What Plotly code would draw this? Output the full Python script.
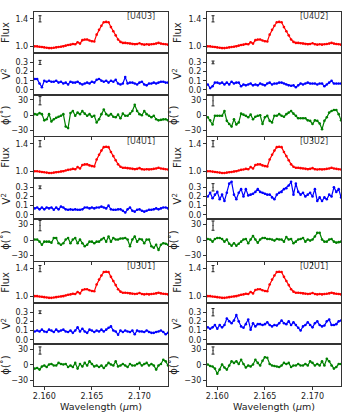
import plotly.graph_objects as go

# ---------------- data ----------------
wavelength = [round(2.1590 + 0.00025 * i, 5) for i in range(57)]

flux = [1.00, 1.00, 0.995, 0.99, 0.985, 0.98, 0.975, 0.975, 0.98, 0.985,
        0.99, 0.995, 1.00, 1.01, 1.02, 1.025, 1.035, 1.03, 1.06, 1.04,
        1.09, 1.10, 1.10, 1.085, 1.075, 1.07, 1.17, 1.24, 1.30, 1.35,
        1.355, 1.35, 1.28, 1.22, 1.16, 1.10, 1.065, 1.05, 1.05, 1.045,
        1.04, 1.035, 1.03, 1.035, 1.045, 1.03, 1.025, 1.03, 1.025, 1.03,
        1.035, 1.04, 1.05, 1.04, 1.035, 1.03, 1.025]

v2_U4U3 = [0.12, 0.12, 0.07, 0.03, 0.10, 0.09, 0.10, 0.09, 0.09, 0.10,
           0.08, 0.09, 0.07, 0.08, 0.06, 0.09, 0.08, 0.08, 0.09, 0.07,
           0.06, 0.07, 0.08, 0.07, 0.09, 0.08, 0.11, 0.12, 0.10, 0.09,
           0.10, 0.08, 0.10, 0.09, 0.11, 0.07, 0.06, 0.07, 0.14, 0.07,
           0.08, 0.08, 0.07, 0.06, 0.08, 0.09, 0.06, 0.05, 0.07, 0.07,
           0.08, 0.07, 0.08, 0.09, 0.09, 0.08, 0.08]
phi_U4U3 = [2, 1, 4, 2, -10, -8, 2, -12, -8, -5,
            -3, -1, 2, -22, -25, 4, 8, -1, 5, 2,
            8, 3, -1, 2, -3, -1, -14, -8, 2, 11,
            2, -1, 2, -3, -4, 1, -6, 3, -1, -1,
            3, 8, 20, 8, 2, 0, 8, 2, -1, -4,
            -1, -8, -10, -9, -8, -8, -10]

v2_U4U2 = [0.06, 0.02, 0.04, 0.08, 0.08, 0.07, 0.08, 0.06, 0.08, 0.06,
           0.09, 0.07, 0.08, 0.08, 0.04, 0.06, 0.05, 0.06, 0.07, 0.05,
           0.06, 0.05, 0.07, 0.06, 0.05, 0.07, 0.08, 0.06, 0.07, 0.07,
           0.08, 0.08, 0.07, 0.06, 0.05, 0.045, 0.05, 0.03, 0.05, 0.07,
           0.06, 0.07, 0.08, 0.07, 0.07, 0.07, 0.06, 0.07, 0.07, 0.04,
           0.06, 0.08, 0.10, 0.07, 0.07, 0.07, 0.07]
phi_U4U2 = [-4, -10, -18, -1, -1, -1, -1, 8, -11, -17,
            -22, -8, -18, -14, 3, 1, -1, -4, 1, -8,
            -3, -1, 0, -17, -4, -1, -11, -14, -1, -1,
            2, -1, -3, 2, 5, 8, 3, -1, -6, -6,
            -6, -6, -10, -11, -17, -10, -11, -16, -27, -11,
            -4, 5, 8, 10, 10, 2, -10]

v2_U4U1 = [0.07, 0.08, 0.06, 0.08, 0.06, 0.08, 0.07, 0.08, 0.055, 0.08,
           0.06, 0.09, 0.08, 0.06, 0.055, 0.06, 0.055, 0.06, 0.055, 0.055,
           0.06, 0.08, 0.08, 0.07, 0.08, 0.07, 0.08, 0.08, 0.09, 0.08,
           0.07, 0.10, 0.06, 0.055, 0.055, 0.06, 0.06, 0.045, 0.025, 0.06,
           0.08, 0.045, 0.035, 0.055, 0.06, 0.045, 0.035, 0.045, 0.055, 0.055,
           0.06, 0.07, 0.06, 0.07, 0.08, 0.08, 0.07]
phi_U4U1 = [1, 1, -3, -9, -3, -3, -3, -5, 4, 4,
            -6, -9, -6, 1, 4, -6, 1, 4, -6, 1,
            -6, -12, -9, -3, -3, -6, -3, -3, 1, 4,
            -3, 7, -3, 4, 1, 1, 3, 3, 4, 1,
            -12, 1, 7, -3, 2, 1, -6, 1, 1, -12,
            -15, -9, -19, -9, -6, -7, -9]

v2_U3U2 = [0.20, 0.24, 0.18, 0.22, 0.25, 0.17, 0.22, 0.15, 0.24, 0.34,
           0.36, 0.22, 0.17, 0.24, 0.28, 0.20, 0.28, 0.21, 0.22, 0.23,
           0.25, 0.28, 0.25, 0.24, 0.23, 0.22, 0.22, 0.19, 0.17, 0.22,
           0.24, 0.25, 0.28, 0.29, 0.32, 0.36, 0.22, 0.34, 0.25, 0.22,
           0.24, 0.20, 0.22, 0.24, 0.20, 0.28, 0.15, 0.19, 0.15, 0.19,
           0.17, 0.22, 0.20, 0.30, 0.25, 0.28, 0.19]
phi_U3U2 = [2, 1, -3, 2, 4, 4, 2, -3, 1, -7,
            -11, -6, -11, -7, -3, 1, 2, -6, 1, 8,
            1, -5, 1, 4, 4, 2, 2, 1, -1, 2,
            1, 1, -3, 6, 1, 2, -6, -3, 1, 2,
            4, -3, 1, -1, 1, 7, 14, 14, 1, -3,
            -3, 1, 2, -3, -5, -4, -3]

v2_U3U1 = [0.09, 0.10, 0.09, 0.11, 0.09, 0.085, 0.11, 0.10, 0.085, 0.11,
           0.09, 0.10, 0.11, 0.09, 0.085, 0.10, 0.075, 0.10, 0.135, 0.09,
           0.12, 0.09, 0.075, 0.11, 0.10, 0.085, 0.10, 0.09, 0.11, 0.09,
           0.11, 0.13, 0.145, 0.10, 0.09, 0.055, 0.10, 0.085, 0.10, 0.09,
           0.085, 0.10, 0.06, 0.10, 0.09, 0.09, 0.085, 0.10, 0.085, 0.075,
           0.075, 0.085, 0.09, 0.10, 0.085, 0.06, 0.075]
phi_U3U1 = [-7, -6, -9, -3, -1, -4, 1, 2, -1, -1,
            4, 2, 1, 2, -4, -1, -4, 4, -7, 2,
            -3, 4, -1, 7, 2, -3, -1, -4, -1, -6,
            -1, 4, 1, -1, 7, -3, -1, 2, -1, -4,
            2, -1, -1, 2, 4, -1, 2, 4, -1, 2,
            -1, -9, -1, 2, 10, 7, -1]

v2_U2U1 = [0.135, 0.12, 0.135, 0.16, 0.12, 0.16, 0.135, 0.16, 0.23, 0.20,
           0.18, 0.21, 0.27, 0.20, 0.145, 0.13, 0.17, 0.22, 0.11, 0.18,
           0.145, 0.17, 0.17, 0.16, 0.17, 0.19, 0.16, 0.145, 0.16, 0.155,
           0.18, 0.21, 0.18, 0.17, 0.20, 0.16, 0.19, 0.16, 0.13, 0.10,
           0.145, 0.16, 0.19, 0.16, 0.135, 0.18, 0.20, 0.16, 0.145, 0.155,
           0.20, 0.22, 0.16, 0.16, 0.17, 0.20, 0.21]
phi_U2U1 = [1, -2, -3, -7, -17, -9, 1, -5, -9, -1,
            7, 4, 7, 2, 10, 2, -5, -1, -3, 1,
            10, 4, -1, 8, 15, 14, 2, -1, -2, -3,
            -4, -1, 4, 2, 4, -4, -1, -1, 2, -1,
            -1, 2, -1, 7, 4, -1, 2, -1, 7, -1,
            12, 7, -1, -7, -4, 2, 2]

# representative error bars (flux, V2, phase) drawn at top-left of each panel
err_x = 2.15955
err_center = [1.40, 0.30, 28]
errs = {
    "U4U3": [0.045, 0.022, 8],
    "U4U1": [0.045, 0.015, 10],
    "U3U1": [0.045, 0.015, 7],
    "U4U2": [0.045, 0.015, 10],
    "U3U2": [0.045, 0.040, 9],
    "U2U1": [0.045, 0.040, 7],
}

columns = [["U4U3", "U4U1", "U3U1"], ["U4U2", "U3U2", "U2U1"]]
series = {
    "U4U3": (v2_U4U3, phi_U4U3),
    "U4U2": (v2_U4U2, phi_U4U2),
    "U4U1": (v2_U4U1, phi_U4U1),
    "U3U2": (v2_U3U2, phi_U3U2),
    "U3U1": (v2_U3U1, phi_U3U1),
    "U2U1": (v2_U2U1, phi_U2U1),
}

colors = ["#ff0000", "#0000ff", "#008000"]
titles = ["Flux", "V<sup>2</sup>", "\u03d5(\u02da)"]
yranges = [[0.9, 1.5], [-0.05, 0.4], [-40, 40]]
ytickvals = [[1.0, 1.4], [0.0, 0.1, 0.2, 0.3], [-30, 0, 30]]
yticktext = [["1.0", "1.4"], ["0.0", "0.1", "0.2", "0.3"], ["\u221230", "0", "30"]]
xtickvals = [2.160, 2.165, 2.170]
xticktext = ["2.160", "2.165", "2.170"]

# ---------------- layout geometry ----------------
W, H = 354, 412
x_domains = [[32 / W, 167 / W], [206 / W, 341 / W]]
group_tops = [12, 137.5, 263]
ph = 41.5
AX = "#333333"

fig = go.Figure()
layout = dict(width=W, height=H, margin=dict(l=0, r=0, t=0, b=0),
              paper_bgcolor="white", plot_bgcolor="white", showlegend=False,
              font=dict(family="DejaVu Sans", size=8, color="#222222"))
annotations = []

k = 0
for c in range(2):
    for g in range(3):
        bl = columns[c][g]
        v2, phi = series[bl]
        panel_data = [flux, v2, phi]
        for p in range(3):
            k += 1
            xa = "x" if k == 1 else f"x{k}"
            ya = "y" if k == 1 else f"y{k}"
            top = group_tops[g] + p * ph
            bot = top + ph
            fig.add_trace(go.Scatter(
                x=wavelength, y=panel_data[p], xaxis=xa, yaxis=ya,
                mode="lines+markers",
                line=dict(color=colors[p], width=1.2),
                marker=dict(color=colors[p], size=2.6)))
            fig.add_trace(go.Scatter(
                x=[err_x], y=[err_center[p]], xaxis=xa, yaxis=ya,
                mode="markers", marker=dict(size=1, color="#222222"),
                error_y=dict(type="data", array=[errs[bl][p]],
                             color="#222222", thickness=1, width=1.5)))
            bottom = (p == 2)
            last = (g == 2 and p == 2)
            xkey = "xaxis" if k == 1 else f"xaxis{k}"
            ykey = "yaxis" if k == 1 else f"yaxis{k}"
            xax = dict(
                domain=x_domains[c], anchor=ya, range=[2.1589, 2.1730],
                showline=True, mirror=True, linecolor=AX, linewidth=1,
                showgrid=False, zeroline=False,
                ticks="outside" if bottom else "", ticklen=3, tickwidth=1,
                tickcolor=AX, tickvals=xtickvals, ticktext=xticktext,
                showticklabels=last, tickfont=dict(size=8))
            if last:
                xax["title"] = dict(text="Wavelength (<i>\u03bc</i>m)",
                                    font=dict(size=9.5), standoff=4)
            layout[xkey] = xax
            layout[ykey] = dict(
                domain=[1 - bot / H, 1 - top / H], anchor=xa,
                range=yranges[p], showline=True, mirror=True,
                linecolor=AX, linewidth=1, showgrid=False, zeroline=False,
                ticks="outside", ticklen=3, tickwidth=1, tickcolor=AX,
                tickvals=ytickvals[p], ticktext=yticktext[p],
                tickfont=dict(size=8),
                title=dict(text=titles[p], font=dict(size=10), standoff=4))
            if p == 0:
                annotations.append(dict(
                    x=2.1702, y=1.43, xref=xa, yref=ya, text=f"[{bl}]",
                    showarrow=False, font=dict(size=8, color="#333333"),
                    xanchor="center", yanchor="middle"))

layout["annotations"] = annotations
fig.update_layout(**layout)
fig.write_html("out.html", config={"displayModeBar": False},
               post_script="document.body.style.margin='0px';")
